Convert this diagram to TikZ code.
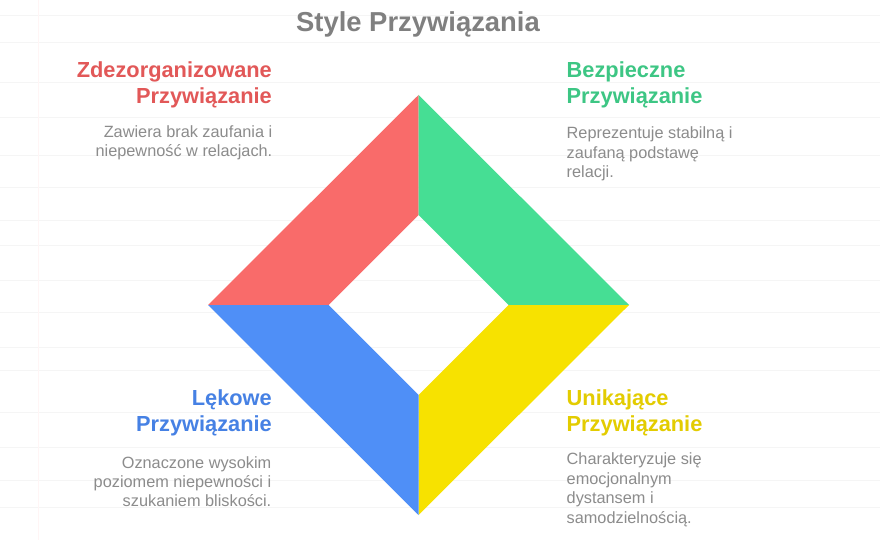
\documentclass[tikz,border=0pt]{standalone}
\usepackage{fontspec}
\setmainfont{Liberation Sans}
\definecolor{cred}{HTML}{F96B6A}
\definecolor{cgreen}{HTML}{46DE94}
\definecolor{cblue}{HTML}{4F8FF7}
\definecolor{cyellow}{HTML}{F7E200}
\definecolor{hred}{HTML}{E25858}
\definecolor{hgreen}{HTML}{3DC684}
\definecolor{hblue}{HTML}{4681E4}
\definecolor{hyellow}{HTML}{E3CC00}
\definecolor{bodygray}{HTML}{8C8C8C}
\definecolor{titlegray}{HTML}{808080}
\tikzset{
  bgline/.style={draw=black!4, line width=0.8pt},
  vline/.style={draw=red!4, line width=0.8pt},
  hd/.style={inner sep=0pt, font=\bfseries\fontsize{21.8}{25}\selectfont},
  bd/.style={inner sep=0pt, text=bodygray, font=\fontsize{16.3}{19}\selectfont},
  ttl/.style={inner sep=0pt, text=titlegray, font=\bfseries\fontsize{27.4}{30}\selectfont},
}
\begin{document}
\begin{tikzpicture}[x=1pt,y=-1pt]
\useasboundingbox (0,0) rectangle (880,540);
\fill[white] (0,0) rectangle (880,540);
\foreach \yy in {15,42,82,117,155,187,220,245,280,312,347,370,412,447,480,507}
  \draw[bgline] (0,\yy) -- (880,\yy);
\draw[vline] (38,0) -- (38,540);

% diamond geometry
\coordinate (OT) at (418.5,95);
\coordinate (OL) at (208,305);
\coordinate (OR) at (629,305);
\coordinate (OB) at (418.5,515);
\coordinate (IT) at (418.5,215);
\coordinate (IL) at (328.5,305);
\coordinate (IR) at (508.5,305);
\coordinate (IB) at (418.5,395);

\fill[cred] (OT) -- (OL) -- (IL) -- (IT) -- cycle;
\fill[cgreen] (OT) -- (IT) -- (IR) -- (OR) -- cycle;
\fill[cyellow] (OR) -- (IR) -- (IB) -- (OB) -- cycle;
\fill[cblue] (OL) -- (OB) -- (IB) -- (IL) -- cycle;

% title
\node[ttl, anchor=base] (title) at (418,31.5) {Style Przywiązania};

% top-left
\node[hd, text=hred, anchor=base east] (tlh1) at (272,77.5) {Zdezorganizowane};
\node[hd, text=hred, anchor=base east] (tlh2) at (272,103.5) {Przywiązanie};
\node[bd, anchor=base east] (tlb1) at (272.5,137.5) {Zawiera brak zaufania i};
\node[bd, anchor=base east] (tlb2) at (272.5,157) {niepewność w relacjach.};

% top-right
\node[hd, text=hgreen, anchor=base west] (trh1) at (566.5,77.5) {Bezpieczne};
\node[hd, text=hgreen, anchor=base west] (trh2) at (566.5,103.5) {Przywiązanie};
\node[bd, anchor=base west] (trb1) at (566.5,139) {Reprezentuje stabilną i};
\node[bd, anchor=base west] (trb2) at (566.5,158.5) {zaufaną podstawę};
\node[bd, anchor=base west] (trb3) at (566.5,178) {relacji.};

% bottom-left
\node[hd, text=hblue, anchor=base east] (blh1) at (272,405.5) {Lękowe};
\node[hd, text=hblue, anchor=base east] (blh2) at (272,431) {Przywiązanie};
\node[bd, anchor=base east] (blb1) at (271.5,468.5) {Oznaczone wysokim};
\node[bd, anchor=base east] (blb2) at (271.5,487.5) {poziomem niepewności i};
\node[bd, anchor=base east] (blb3) at (271.5,506.5) {szukaniem bliskości.};

% bottom-right
\node[hd, text=hyellow, anchor=base west] (brh1) at (566.5,405.5) {Unikające};
\node[hd, text=hyellow, anchor=base west] (brh2) at (566.5,431) {Przywiązanie};
\node[bd, anchor=base west] (brb1) at (566.5,464.5) {Charakteryzuje się};
\node[bd, anchor=base west] (brb2) at (566.5,484) {emocjonalnym};
\node[bd, anchor=base west] (brb3) at (566.5,503.5) {dystansem i};
\node[bd, anchor=base west] (brb4) at (566.5,523) {samodzielnością.};
\end{tikzpicture}
\end{document}
